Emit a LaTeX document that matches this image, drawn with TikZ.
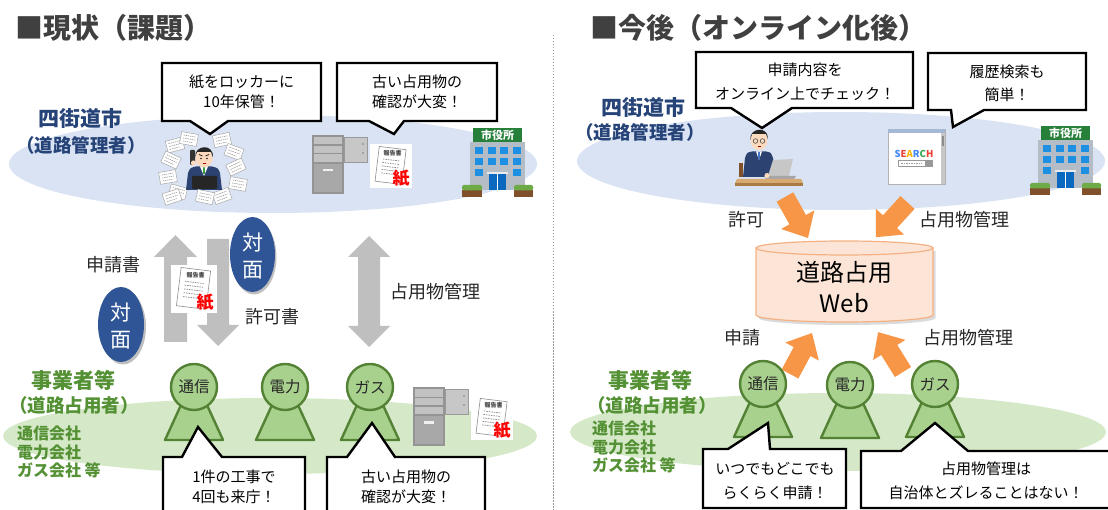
\documentclass[tikz,border=0pt]{standalone}
\usepackage{fontspec}
\setmainfont{Noto Sans CJK JP}
\usetikzlibrary{calc}

\definecolor{titlegray}{RGB}{64,64,64}
\definecolor{cityblue}{RGB}{38,68,120}
\definecolor{skyfill}{RGB}{218,227,243}
\definecolor{leaffill}{RGB}{213,233,200}
\definecolor{corpgreen}{RGB}{84,145,52}
\definecolor{usergreen}{RGB}{84,130,53}
\definecolor{userfill}{RGB}{169,209,142}
\definecolor{facefill}{RGB}{47,85,151}
\definecolor{arrowgray}{RGB}{191,191,191}
\definecolor{webarrow}{RGB}{247,150,70}
\definecolor{dbfill}{RGB}{252,229,214}
\definecolor{dbline}{RGB}{244,177,131}
\definecolor{labelblack}{RGB}{38,38,38}
\definecolor{hallgray}{RGB}{180,189,198}
\definecolor{winblue}{RGB}{30,144,228}
\definecolor{doorblue}{RGB}{10,105,190}
\definecolor{signgreen}{RGB}{38,128,58}
\definecolor{bushgreen}{RGB}{110,170,70}
\definecolor{soilbrown}{RGB}{128,80,42}
\definecolor{suitnavy}{RGB}{44,66,112}
\definecolor{skin}{RGB}{252,218,190}
\definecolor{tiegreen}{RGB}{60,160,60}
\definecolor{tieblue}{RGB}{70,120,200}
\definecolor{deskwood}{RGB}{214,170,112}
\definecolor{deskfront}{RGB}{170,122,70}
\definecolor{barblue}{RGB}{165,185,215}
\definecolor{gblue}{RGB}{66,133,244}
\definecolor{gred}{RGB}{234,67,53}
\definecolor{gyellow}{RGB}{245,180,0}
\definecolor{ggreen}{RGB}{52,168,83}

\tikzset{
  every node/.style={inner sep=0pt, outer sep=0pt},
  title/.style={font=\bfseries\fontsize{28}{30}\selectfont, text=titlegray, anchor=west},
  cityname/.style={font=\bfseries\fontsize{21}{24}\selectfont, text=cityblue},
  citysub/.style={font=\bfseries\fontsize{18.5}{22}\selectfont, text=cityblue},
  corpname/.style={font=\bfseries\fontsize{21}{24}\selectfont, text=corpgreen},
  corpsub/.style={font=\bfseries\fontsize{18.5}{22}\selectfont, text=corpgreen},
  corplist/.style={font=\bfseries\fontsize{16}{18}\selectfont, text=corpgreen, anchor=west},
  flowlabel/.style={font=\fontsize{18}{20}\selectfont, text=labelblack},
  bubble/.style={draw=black, fill=white, line width=2.4pt, line join=miter},
  bubbletext/.style={font=\fontsize{15}{20}\selectfont, align=center, text=black},
  bubbletextwide/.style={font=\fontsize{15}{23.5}\selectfont, align=center, text=black},
  badgetext/.style={font=\fontsize{21}{27}\selectfont, align=center, text=white},
  dbtext/.style={font=\fontsize{24}{31}\selectfont, align=center, text=black},
  usercircle/.style={circle, draw=usergreen, fill=userfill, line width=2.4pt,
    minimum size=46pt, font=\fontsize{15.5}{16}\selectfont, text=labelblack},
  userbody/.style={draw=usergreen, fill=userfill, line width=2.4pt, line join=round},
  divider/.style={draw=black!40, line width=0.8pt, dash pattern=on 1.5pt off 1.5pt},
  % block arrow along +x: length, shaft half width, head half width, head length, colour
  pics/blockarr/.style n args={5}{code={
    \fill[#5] (0,-#2) -- ({#1-#4},-#2) -- ({#1-#4},-#3) -- (#1,0)
      -- ({#1-#4},#3) -- ({#1-#4},#2) -- (0,#2) -- cycle;
  }},
  % road user: head with label and a cone body
  pics/user/.style={code={
    \path[userbody] (-13,18) -- (-29,53) -- (29,53) -- (13,18) -- cycle;
    \node[usercircle] (-head) at (0,0) {#1};
  }},
  % paper report with the red mark
  pics/report/.style={code={
    \fill[white] (-21,-22) rectangle (21,22);
    \begin{scope}[rotate=-7]
      \draw[black!45, fill=white, line width=0.6pt] (-14,-18) rectangle (13,17);
      \node[font=\bfseries\fontsize{6}{6}\selectfont, text=black!75] (-hdr) at (0,-12.5) {報告書};
      \foreach \yy in {-6,-2.5,1,4.5,8} {
        \draw[black!45, line width=0.7pt, dash pattern=on 1.6pt off 0.9pt] (-9,\yy) -- (8,\yy);
      }
    \end{scope}
    \node[font=\bfseries\fontsize{17}{17}\selectfont, text=red] (-mark) at (10,12) {紙};
  }},
  % loose sheet of paper
  pics/sheet/.style={code={
    \draw[black!35, fill=white, line width=0.5pt] (-8.5,-6) rectangle (8.5,6);
    \draw[black!40, line width=0.6pt, dash pattern=on 1.4pt off 0.8pt]
      (-6,-3) -- (6,-3) (-6,0) -- (6,0) (-6,3) -- (4,3);
  }},
  % steel locker with its upper door open
  pics/locker/.style={code={
    \fill[black!42] (0,0) rectangle (32,59);
    \fill[black!24] (2,2) rectangle (30,27);
    \fill[black!42] (2,9.5) rectangle (30,11);
    \fill[black!42] (2,18) rectangle (30,19.5);
    \fill[black!34] (2,29) rectangle (30,57);
    \fill[black!6] (11,34) rectangle (21,36.5);
    \fill[black!22] (32,2) rectangle (55,27);
    \draw[black!40, line width=0.6pt] (32,2) rectangle (55,27);
    \fill[black!50] (51,9) circle[radius=0.9pt];
    \fill[black!50] (51,18) circle[radius=0.9pt];
  }},
  % city hall building
  pics/cityhall/.style={code={
    \fill[hallgray] (0,0) rectangle (55,48);
    \fill[signgreen] (3,-14) rectangle (52,0);
    \node[font=\bfseries\fontsize{11}{11}\selectfont, text=white] (-sign) at (27.5,-7) {市役所};
    \foreach \c in {0,1,2,3} {
      \foreach \r in {0,1} {
        \fill[winblue] ({5+12.5*\c},{5+11*\r}) rectangle +(8,7);
      }
    }
    \fill[winblue] (5,27) rectangle +(8,7);
    \fill[winblue] (42.5,27) rectangle +(8,7);
    \fill[white!70!hallgray] (17,30) rectangle (38,32.5);
    \fill[doorblue] (19,32.5) rectangle (36,48);
    \draw[white, line width=0.6pt] (27.5,32.5) -- (27.5,48);
    \fill[soilbrown] (-8,48) rectangle (12,55);
    \fill[bushgreen, rounded corners=1.5pt] (-8,43) rectangle (12,48.5);
    \fill[soilbrown] (44,48) rectangle (63,55);
    \fill[bushgreen, rounded corners=1.5pt] (44,43) rectangle (63,48.5);
  }}
}

\begin{document}
\begin{tikzpicture}[x=1pt,y=-1pt]
\useasboundingbox (0,0) rectangle (1108,510);
\clip (0,0) rectangle (1108,510);

% ---------- background zones ----------
\fill[skyfill] (273,164) ellipse [x radius=264pt, y radius=49pt];
\fill[skyfill] (841,161) ellipse [x radius=264pt, y radius=49pt];
\fill[leaffill] (270,436) ellipse [x radius=267pt, y radius=38pt];
\fill[leaffill] (838,432) ellipse [x radius=268pt, y radius=39pt];

\draw[divider] (553,35) -- (553,510);

% ---------- headings ----------
\node[title] (titleL) at (15,28) {■現状（課題）};
\node[title] (titleR) at (590,28) {■今後（オンライン化後）};

\node[cityname] (cityL) at (80,118) {四街道市};
\node[citysub] (citysubL) at (81,145) {（道路管理者）};
\node[cityname] (cityR) at (643,107) {四街道市};
\node[citysub] (citysubR) at (640,132) {（道路管理者）};

\node[corpname] (corpL) at (73,380) {事業者等};
\node[corpsub] (corpsubL) at (74,405) {（道路占用者）};
\node[corplist] (listL1) at (17,433) {通信会社};
\node[corplist] (listL2) at (17,452) {電力会社};
\node[corplist] (listL3) at (17,470) {ガス会社 等};
\node[corpname] (corpR) at (650,380) {事業者等};
\node[corpsub] (corpsubR) at (652,405) {（道路占用者）};
\node[corplist] (listR1) at (592,428) {通信会社};
\node[corplist] (listR2) at (592,447) {電力会社};
\node[corplist] (listR3) at (592,465) {ガス会社 等};

% ---------- left: city office buried in paper ----------
\foreach \px/\py/\pa in {175/145/15, 189/139/-10, 222/140/12, 234/152/-20,
    171/160/-25, 168/177/10, 236/167/25, 178/192/-15, 238/184/-10, 222/196/20}
  { \pic[rotate=\pa] at (\px,\py) {sheet}; }
\fill[suitnavy] (186,190) -- (188,173) .. controls (190,168) .. (196,166.5)
  -- (212,166.5) .. controls (218,168) .. (220,173) -- (222,190) -- cycle;
\fill[white] (200,166.5) -- (208,166.5) -- (204,176) -- cycle;
\fill[tiegreen] (203.2,167.5) rectangle (204.8,174);
\fill[skin] (204,158) ellipse [x radius=8.5pt, y radius=9.5pt];
\fill[black!85] (195.3,157) .. controls (194,145) and (214,143) .. (212.8,157)
  -- (211,152) -- (197,152) -- cycle;
\draw[black!85, line width=0.8pt] (199,154.5) -- (202.5,156) (209,154.5) -- (205.5,156);
\fill[black!85] (201,158.5) circle[radius=0.9pt] (207,158.5) circle[radius=0.9pt];
\fill[red!70!black] (202.5,163) rectangle (205.5,164.5);
\fill[black!80, rounded corners=1pt] (190,150) rectangle (195,165);
\fill[skin] (193.5,163) circle[radius=2.6pt];
\fill[black!85, rounded corners=1pt] (192,176) rectangle (217,189);
\foreach \px/\py/\pa in {205/197/-12, 172/197/18}
  { \pic[rotate=\pa] at (\px,\py) {sheet}; }

\pic (lockTop) at (312,135) {locker};
\pic (repTop) at (391,166) {report};
\pic (hallL) at (470,142) {cityhall};

% ---------- right: city office online ----------
\fill[soilbrown] (739,163) rectangle (743,177);
\fill[suitnavy] (743,177) -- (745,158) .. controls (747,152.5) .. (752,151.5)
  -- (766,151.5) .. controls (771,152.5) .. (773,158) -- (776,177) -- cycle;
\fill[white] (756,151.5) -- (762,151.5) -- (759,160) -- cycle;
\fill[tieblue] (758.3,152.5) rectangle (759.7,159);
\fill[skin] (759,140) ellipse [x radius=8.5pt, y radius=10pt];
\fill[black!85] (750.3,140) .. controls (749,127) and (769,126) .. (767.8,139)
  -- (766,134) -- (752,134) -- cycle;
\draw[black!70, line width=0.6pt] (755.5,141) circle[radius=2.3pt] (762.5,141) circle[radius=2.3pt];
\fill[red!60!black] (757.5,146) rectangle (760.5,147.2);
\fill[black!22] (768,176) -- (773,160) -- (793,159) -- (789,176) -- cycle;
\fill[black!35] (764,176) -- (796,176) -- (794,179) -- (766,179) -- cycle;
\fill[skin] (767,175.5) circle[radius=2.5pt];
\fill[deskwood] (737,179) -- (801,179) -- (803,183) -- (735,183) -- cycle;
\fill[deskfront] (735,183) rectangle (803,186);

% search window
\draw[black!30, fill=white, line width=0.8pt] (888,129) rectangle (945,184);
\fill[barblue] (888,129) rectangle (945,133.5);
\fill[black!22] (941,133.5) rectangle (945,184);
\fill[black!45] (941.6,136) rectangle (944.4,146);
\node[font=\bfseries\fontsize{9.5}{10}\selectfont] (srch) at (914,153.5)
  {\textcolor{gblue}{S}\textcolor{gred}{E}\textcolor{gyellow}{A}\textcolor{gblue}{R}\textcolor{ggreen}{C}\textcolor{gred}{H}};
\draw[black!40, fill=white, line width=0.6pt] (898,160) rectangle (932,166);
\draw[black!40, line width=0.8pt, dash pattern=on 1.5pt off 1pt] (901,163) -- (922,163);
\fill[black!40] (925,160) rectangle (932,166);

\pic (hallR) at (1038,140) {cityhall};

% ---------- left: paper flows ----------
\pic[rotate=90] (upArr) at (175.5,342) {blockarr={107}{11.5}{21.5}{22}{arrowgray}};
\pic[rotate=-90] (downArr) at (218,239) {blockarr={107}{11}{21}{21}{arrowgray}};
\fill[arrowgray] (369,236) -- (390,257) -- (380,257) -- (380,326) -- (390,326)
  -- (369,347) -- (348,326) -- (358,326) -- (358,257) -- (348,257) -- cycle;
\pic[scale=1.1] (repMid) at (194,289) {report};

\fill[black!25] (254,257) ellipse [x radius=22.5pt, y radius=37.5pt];
\fill[facefill] (252.5,254.5) ellipse [x radius=22.5pt, y radius=37.5pt];
\node[badgetext] (faceA) at (252.5,256) {対\\面};
\fill[black!25] (123,327) ellipse [x radius=23pt, y radius=37.5pt];
\fill[facefill] (121,324.5) ellipse [x radius=23pt, y radius=37.5pt];
\node[badgetext] (faceB) at (121,326) {対\\面};

\node[flowlabel] (lbApply) at (113,265) {申請書};
\node[flowlabel] (lbPermit) at (272,317) {許可書};
\node[flowlabel] (lbManageL) at (435,292) {占用物管理};

% ---------- right: web flows ----------
\pic[rotate=-60.7] (arrPermit) at (785,197) {blockarr={47}{9.5}{19}{21}{webarrow}};
\pic[rotate=-132.4] (arrManage) at (907.5,202.5) {blockarr={47}{9.5}{19}{21}{webarrow}};
\pic[rotate=61.8] (arrApply) at (790,374) {blockarr={46.5}{9.5}{19}{21}{webarrow}};
\pic[rotate=122] (arrUpdate) at (903,372) {blockarr={47}{9.5}{19}{21}{webarrow}};

\begin{scope}[shift={(2.5,3)}]
  \fill[black!14] (756,248) -- (756,315)
    arc[start angle=180, end angle=360, x radius=88.5pt, y radius=7pt] -- (933,248) -- cycle;
\end{scope}
\filldraw[fill=dbfill, draw=dbline, line width=1.2pt] (756,248) -- (756,315)
  arc[start angle=180, end angle=360, x radius=88.5pt, y radius=7pt] -- (933,248) -- cycle;
\filldraw[fill=dbfill, draw=dbline, line width=1.2pt] (844.5,248) ellipse [x radius=88.5pt, y radius=7pt];
\node[dbtext] (db) at (844.5,287) {道路占用\\Web};

\node[flowlabel] (lbPermitR) at (746,220) {許可};
\node[flowlabel] (lbManageR1) at (964,220) {占用物管理};
\node[flowlabel] (lbApplyR) at (742,338) {申請};
\node[flowlabel] (lbManageR2) at (968,338) {占用物管理};

% ---------- road users ----------
\pic (uTelL) at (194,387) {user=通信};
\pic (uPowL) at (285,387) {user=電力};
\pic (uGasL) at (370,387) {user=ガス};
\pic (uTelR) at (763,384) {user=通信};
\pic (uPowR) at (850,385) {user=電力};
\pic (uGasR) at (935,384) {user=ガス};

\pic (lockLow) at (413,387) {locker};
\pic (repLow) at (492,418) {report};

% ---------- speech bubbles ----------
\path[bubble] (162,63) -- (321,63) -- (321,121) -- (228,121) -- (210,134) -- (190,121) -- (162,121) -- cycle;
\node[bubbletext] (sayLocker) at (241.5,92) {紙をロッカーに\\10年保管！};
\path[bubble] (337,63) -- (497,63) -- (497,121) -- (404,121) -- (394,134) -- (369,121) -- (337,121) -- cycle;
\node[bubbletext] (sayOldTop) at (417,92) {古い占用物の\\確認が大変！};

\path[bubble] (163,457) -- (182,457) -- (198,427) -- (222,457) -- (305,457) -- (305,515) -- (163,515) -- cycle;
\node[bubbletext] (sayVisit) at (234,487) {1件の工事で\\4回も来庁！};
\path[bubble] (327,457) -- (347,457) -- (372,423) -- (395,457) -- (485,457) -- (485,515) -- (327,515) -- cycle;
\node[bubbletext] (sayOldLow) at (406,487) {古い占用物の\\確認が大変！};

\path[bubble] (696,52) -- (913,52) -- (913,108) -- (792,108) -- (762,128) -- (731,108) -- (696,108) -- cycle;
\node[bubbletextwide] (sayCheck) at (805,82) {申請内容を\\オンライン上でチェック！};
\path[bubble] (928,53) -- (1086,53) -- (1086,110) -- (984,110) -- (953,127) -- (951,110) -- (928,110) -- cycle;
\node[bubbletextwide] (saySearch) at (1007,83.5) {履歴検索も\\簡単！};

\path[bubble] (703,449) -- (728,449) -- (768,423) -- (770,449) -- (846,449) -- (846,508) -- (703,508) -- cycle;
\node[bubbletextwide] (sayAnytime) at (775,481) {いつでもどこでも\\らくらく申請！};
\path[bubble] (861,451) -- (901,451) -- (935,423) -- (968,451) -- (1115,451) -- (1115,508) -- (861,508) -- cycle;
\node[bubbletextwide] (saySync) at (986,481) {占用物管理は\\自治体とズレることはない！};
\end{tikzpicture}
\end{document}
